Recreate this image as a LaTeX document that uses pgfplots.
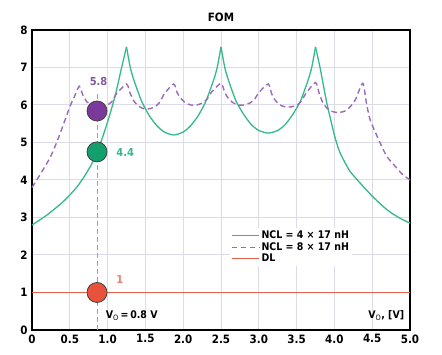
\documentclass[border=0pt]{standalone}
\usepackage{pgfplots}
\pgfplotsset{compat=1.18}
\usepackage{fontspec}
\setmainfont{DejaVu Sans Condensed}
\definecolor{cgreen}{HTML}{35B88C}
\definecolor{cgreendk}{HTML}{13A06C}
\definecolor{cpurple}{HTML}{9A6BB8}
\definecolor{cpurpledk}{HTML}{7B3A9B}
\definecolor{cred}{HTML}{E8604C}
\definecolor{creddk}{HTML}{E8523C}
\definecolor{cgrid}{HTML}{DCDCE8}
\definecolor{cvline}{HTML}{D98888}
\begin{document}
\begin{tikzpicture}
\useasboundingbox (-32pt,-25pt) rectangle (410pt,330pt);
\begin{axis}[
  at={(0,0)}, anchor=south west,
  scale only axis, width=378pt, height=300pt,
  xmin=0, xmax=5, ymin=0, ymax=8,
  xtick={0,0.5,...,5}, ytick={0,1,...,8},
  xticklabels={0,0.5,1.0,1.5,2.0,2.5,3.0,3.5,4.0,4.5,5.0},
  major tick length=0pt,
  grid=major, grid style={cgrid, line width=1pt},
  axis line style={black, line width=1.4pt},
  tick label style={font=\bfseries\fontsize{11.5}{12}\selectfont},
  /pgf/number format/assume math mode=true,
  xticklabel style={yshift=-1pt},
  yticklabel style={xshift=-1pt},
  title={\bfseries FOM}, title style={font=\bfseries\fontsize{11.5}{12}\selectfont, yshift=-1pt},
  legend style={at={(axis cs:2.62,2.72)}, anchor=north west, draw=none, fill=white,
     font=\bfseries\fontsize{10.5}{11}\selectfont, row sep=-2pt, inner sep=1pt},
  legend cell align=left,
  legend image code/.code={\draw[#1, line width=1.2pt] (0cm,0cm) -- (0.95cm,0cm);},
  clip=false,
]
% green NCL = 4 x 17 nH
\addplot[cgreen, line width=1.3pt, smooth, tension=0.5] coordinates {
(0,2.8)(0.1,2.93)(0.2,3.07)(0.3,3.23)(0.4,3.4)(0.5,3.6)(0.6,3.83)(0.7,4.12)(0.8,4.47)(0.9,4.95)(1.0,5.55)(1.1,6.25)(1.18,6.95)(1.25,7.55)};
\addplot[cgreen, line width=1.3pt, smooth, tension=0.4, forget plot] coordinates {
(1.25,7.55)(1.3,7.0)(1.35,6.65)(1.45,6.1)(1.55,5.72)(1.65,5.45)(1.75,5.28)(1.875,5.2)(2.0,5.28)(2.1,5.45)(2.2,5.72)(2.3,6.1)(2.4,6.65)(2.45,7.0)(2.5,7.55)};
\addplot[cgreen, line width=1.3pt, smooth, tension=0.4, forget plot] coordinates {
(2.5,7.55)(2.55,7.0)(2.6,6.65)(2.7,6.1)(2.8,5.75)(2.9,5.48)(3.0,5.32)(3.125,5.25)(3.25,5.32)(3.35,5.48)(3.45,5.75)(3.55,6.1)(3.65,6.65)(3.7,7.0)(3.75,7.55)};
\addplot[cgreen, line width=1.3pt, smooth, tension=0.4, forget plot] coordinates {
(3.75,7.55)(3.81,7.0)(3.9,6.05)(4.0,5.2)(4.07,4.75)(4.2,4.25)(4.34,3.92)(4.51,3.55)(4.7,3.2)(4.85,3.0)(5.0,2.85)};
% purple NCL = 8 x 17 nH
\addplot[cpurple, line width=1.4pt, dashed, dash pattern=on 5.5pt off 3.5pt, smooth, tension=0.4] coordinates {
(0,3.8)(0.1,4.12)(0.24,4.6)(0.33,5.02)(0.41,5.45)(0.5,5.95)(0.56,6.22)(0.625,6.5)
(0.67,6.28)(0.72,6.1)(0.78,6.0)(0.86,5.95)(0.94,5.95)(1.0,6.0)(1.06,6.1)(1.11,6.28)(1.25,6.56)
(1.3,6.3)(1.35,6.1)(1.41,5.97)(1.48,5.9)(1.56,5.9)(1.64,5.97)(1.7,6.1)(1.75,6.3)(1.875,6.56)
(1.92,6.33)(1.97,6.17)(2.03,6.06)(2.1,6.0)(2.18,6.0)(2.26,6.06)(2.32,6.17)(2.37,6.33)(2.5,6.58)
(2.55,6.33)(2.6,6.17)(2.66,6.06)(2.73,6.0)(2.81,6.0)(2.89,6.06)(2.95,6.17)(3.0,6.33)(3.125,6.56)
(3.17,6.3)(3.22,6.12)(3.28,6.0)(3.35,5.95)(3.43,5.95)(3.51,6.0)(3.57,6.12)(3.62,6.3)(3.75,6.6)
(3.8,6.3)(3.85,6.05)(3.91,5.9)(3.98,5.82)(4.07,5.8)(4.15,5.85)(4.22,5.98)(4.28,6.15)(4.375,6.58)
(4.42,6.1)(4.47,5.62)(4.58,5.1)(4.69,4.64)(4.82,4.33)(4.9,4.15)(5.0,4.0)};
% red DL
\addplot[cred, line width=1.1pt] coordinates {(0,1)(5,1)};
\legend{NCL = 4 × 17 nH, NCL = 8 × 17 nH, DL}
% vertical marker line
\addplot[cvline, line width=1pt, dashed, dash pattern=on 5pt off 3pt, forget plot] coordinates {(0.86,0)(0.86,5.84)};
\addplot[cvline, line width=0.9pt, forget plot] coordinates {(0.86,6.15)(0.86,6.3)};
% markers
\addplot[only marks, mark=*, mark size=10pt, mark options={fill=cpurpledk, draw=black!75, line width=0.8pt}, forget plot] coordinates {(0.86,5.84)};
\addplot[only marks, mark=*, mark size=10pt, mark options={fill=cgreendk, draw=black!75, line width=0.8pt}, forget plot] coordinates {(0.86,4.75)};
\addplot[only marks, mark=*, mark size=10pt, mark options={fill=creddk, draw=black!75, line width=0.8pt}, forget plot] coordinates {(0.86,1.0)};
\node[font=\bfseries\fontsize{11}{12}\selectfont, text=cpurple!85!black] at (axis cs:0.88,6.62) {5.8};
\node[font=\bfseries\fontsize{11}{12}\selectfont, text=cgreen, anchor=west] at (axis cs:1.07,4.73) {4.4};
\node[font=\bfseries\fontsize{11}{12}\selectfont, text=cred!80, anchor=west] at (axis cs:1.07,1.36) {1};
\node[font=\bfseries\fontsize{10.5}{12}\selectfont, anchor=west] at (axis cs:0.93,0.38) {V$_\mathrm{O}$\,=\,0.8 V};
\node[font=\bfseries\fontsize{10.5}{12}\selectfont, anchor=east] at (axis cs:4.97,0.38) {V$_\mathrm{O}$, [V]};
\end{axis}
\end{tikzpicture}
\end{document}
